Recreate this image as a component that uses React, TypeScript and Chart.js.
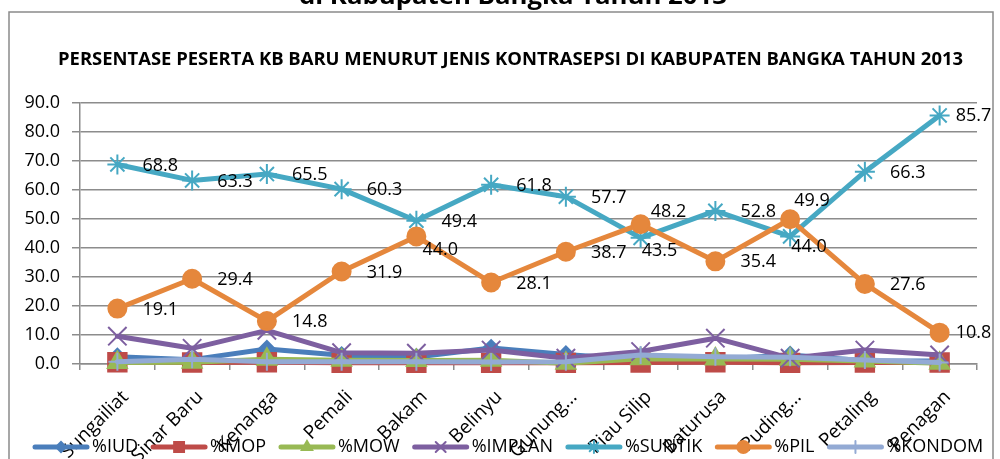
import React, { useEffect, useRef } from 'react';
import { Chart, registerables } from 'chart.js';
import { drawPoint } from 'chart.js/helpers';

Chart.register(...registerables);

// ---------- data ----------
const categories = ['Sungailiat', 'Sinar Baru', 'Kenanga', 'Pemali', 'Bakam', 'Belinyu', 'Gunung...', 'Riau Silip', 'Baturusa', 'Puding...', 'Petaling', 'Penagan'];
const seriesNames = ['%IUD', '%MOP', '%MOW', '%IMPLAN', '%SUNTIK', '%PIL', '%KONDOM'];
const iud = [2.5, 1.5, 5.2, 3.0, 2.4, 5.5, 3.3, 1.5, 1.6, 3.1, 1.1, 1.0];
const mop = [0.6, 0.5, 0.6, 0.4, 0.4, 0.4, 0.4, 0.5, 0.6, 0.4, 0.5, 0.5];
const mow = [0.5, 0.6, 1.6, 1.3, 1.2, 1.3, 0.3, 1.8, 1.7, 1.6, 1.0, 0.3];
const implan = [9.6, 5.4, 11.6, 3.9, 3.7, 4.8, 2.0, 4.3, 8.9, 2.0, 4.8, 3.1];
const suntik = [68.8, 63.3, 65.5, 60.3, 49.4, 61.8, 57.7, 43.5, 52.8, 44.0, 66.3, 85.7];
const pil = [19.1, 29.4, 14.8, 31.9, 44.0, 28.1, 38.7, 48.2, 35.4, 49.9, 27.6, 10.8];
const kondom = [0.8, 1.6, 0.8, 0.8, 0.8, 0.7, 0.8, 3.1, 2.5, 2.3, 1.4, 0.5];
const yTickLabels = ['0.0', '10.0', '20.0', '30.0', '40.0', '50.0', '60.0', '70.0', '80.0', '90.0'];
const pageTitle = 'di Kabupaten Bangka Tahun 2013';
const chartTitle = 'PERSENTASE PESERTA KB BARU MENURUT JENIS KONTRASEPSI DI KABUPATEN BANGKA TAHUN 2013';

// ---------- styles ----------
const FONT = 'Open Sans';
const GRID = '#8c8c8c';
const colors = ['#4A7EBB', '#BE4B48', '#98B954', '#7D5FA0', '#46A8C3', '#E5873C', '#93AAD4'];
const pointStyles = ['rectRot', 'rect', 'triangle', 'crossRot', 'star', 'circle', 'cross'];
const pointRadii = [8, 13, 11, 13, 10, 9, 9];
const legendRadii = [5, 7, 6, 7, 6, 6, 6];
// label offsets (text left edge dx, vertical center dy) relative to the point
const defaultLabelOffset = { dx: 25, dy: 1 };
const suntikLabelOffsets: Record<number, { dx: number; dy: number }> = {
  7: { dx: 1, dy: 13 },
  9: { dx: 1, dy: 10 },
  11: { dx: 16, dy: 0 },
};
const pilLabelOffsets: Record<number, { dx: number; dy: number }> = {
  4: { dx: 6, dy: 13 },
  7: { dx: 10, dy: -12 },
  9: { dx: 4, dy: -18 },
  11: { dx: 16, dy: 0 },
};

function fitText(ctx: CanvasRenderingContext2D, text: string, cx: number, cy: number, w: number, font: string) {
  ctx.save();
  ctx.font = font;
  const m = ctx.measureText(text).width;
  ctx.translate(cx, cy);
  ctx.scale(w / m, 1);
  ctx.textAlign = 'center';
  ctx.textBaseline = 'middle';
  ctx.fillStyle = '#000';
  ctx.fillText(text, 0, 0);
  ctx.restore();
}

const framePlugin = {
  id: 'frame',
  beforeDraw(chart: any) {
    const ctx = chart.ctx as CanvasRenderingContext2D;
    ctx.save();
    ctx.fillStyle = '#fff';
    ctx.fillRect(0, 0, chart.width, chart.height);
    ctx.strokeStyle = '#8a8a8a';
    ctx.lineWidth = 1.5;
    ctx.strokeRect(9, 12, 984, 480);
    ctx.restore();
    fitText(ctx, pageTitle, 513, -3, 428, `bold 24px ${FONT}`);
    fitText(ctx, chartTitle, 510.5, 60, 905, `bold 18px ${FONT}`);
  },
};

const labelPlugin = {
  id: 'valueLabels',
  afterDatasetsDraw(chart: any) {
    const ctx = chart.ctx as CanvasRenderingContext2D;
    ctx.save();
    ctx.font = `18px ${FONT}`;
    ctx.fillStyle = '#000';
    ctx.textAlign = 'left';
    ctx.textBaseline = 'middle';
    const specs = [
      { idx: 4, offsets: suntikLabelOffsets, data: suntik },
      { idx: 5, offsets: pilLabelOffsets, data: pil },
    ];
    specs.forEach(({ idx, offsets, data }) => {
      const meta = chart.getDatasetMeta(idx);
      meta.data.forEach((pt: any, i: number) => {
        const o = offsets[i] || defaultLabelOffset;
        ctx.fillText(data[i].toFixed(1), pt.x + o.dx, pt.y + o.dy);
      });
    });
    ctx.restore();
  },
};

const legendPlugin = {
  id: 'customLegend',
  afterDraw(chart: any) {
    const ctx = chart.ctx as CanvasRenderingContext2D;
    ctx.save();
    ctx.font = `18px ${FONT}`;
    const y = 447;
    let x = 33;
    seriesNames.forEach((name, i) => {
      const c = colors[i];
      ctx.strokeStyle = c;
      ctx.lineWidth = 5;
      ctx.lineCap = 'round';
      ctx.beginPath();
      ctx.moveTo(x + 2, y);
      ctx.lineTo(x + 54, y);
      ctx.stroke();
      ctx.fillStyle = c;
      ctx.strokeStyle = c;
      ctx.lineWidth = 2;
      drawPoint(ctx, { pointStyle: pointStyles[i], radius: legendRadii[i], rotation: 0, borderWidth: 2 } as any, x + 28, y);
      ctx.fillStyle = '#000';
      ctx.textAlign = 'left';
      ctx.textBaseline = 'middle';
      ctx.fillText(name, x + 59, y);
      x += 59 + ctx.measureText(name).width + 13;
    });
    ctx.restore();
  },
};

export default function App() {
  const ref = useRef<HTMLCanvasElement | null>(null);
  useEffect(() => {
    if (!ref.current) return;
    const allData = [iud, mop, mow, implan, suntik, pil, kondom];
    const datasets = allData.map((d, i) => ({
      label: seriesNames[i],
      data: d,
      borderColor: colors[i],
      backgroundColor: colors[i],
      borderWidth: 5,
      borderJoinStyle: 'round' as const,
      borderCapStyle: 'round' as const,
      pointStyle: pointStyles[i],
      pointRadius: pointRadii[i],
      pointBackgroundColor: colors[i],
      pointBorderColor: colors[i],
      pointBorderWidth: 2,
      tension: 0,
      clip: false as any,
      order: 6 - i,
    }));
    const chart = new Chart(ref.current, {
      type: 'line',
      data: { labels: categories, datasets },
      options: {
        animation: false,
        responsive: false,
        devicePixelRatio: 1,
        layout: { padding: { top: 103, right: 23, left: 0, bottom: 0 } },
        plugins: { legend: { display: false }, title: { display: false }, tooltip: { enabled: false } },
        scales: {
          x: {
            offset: true,
            grid: { display: true, drawOnChartArea: false, drawTicks: true, tickLength: 6, offset: true, color: GRID, lineWidth: 1.5 },
            border: { display: true, color: GRID, width: 1.5 },
            ticks: {
              autoSkip: false,
              maxRotation: 45,
              minRotation: 45,
              padding: 16,
              labelOffset: 8,
              color: '#000',
              font: { family: FONT, size: 19 },
            },
            afterFit: (s: any) => { s.height = 95; },
          },
          y: {
            min: 0,
            max: 90,
            ticks: {
              stepSize: 10,
              padding: 12,
              color: '#000',
              font: { family: FONT, size: 18 },
              callback: (v: any) => yTickLabels[Math.round(Number(v) / 10)] ?? '',
            },
            grid: { color: GRID, lineWidth: 1.5, tickLength: 8, drawTicks: true },
            border: { display: true, color: GRID, width: 1.5 },
            afterFit: (s: any) => { s.width = 80; },
          },
        },
      },
      plugins: [framePlugin, labelPlugin, legendPlugin],
    });
    return () => chart.destroy();
  }, []);
  return (
    <div style={{ position: 'fixed', left: 0, top: 0, width: 1000, height: 459, overflow: 'hidden', background: '#fff' }}>
      <canvas ref={ref} width={1000} height={459} style={{ display: 'block' }} />
    </div>
  );
}
